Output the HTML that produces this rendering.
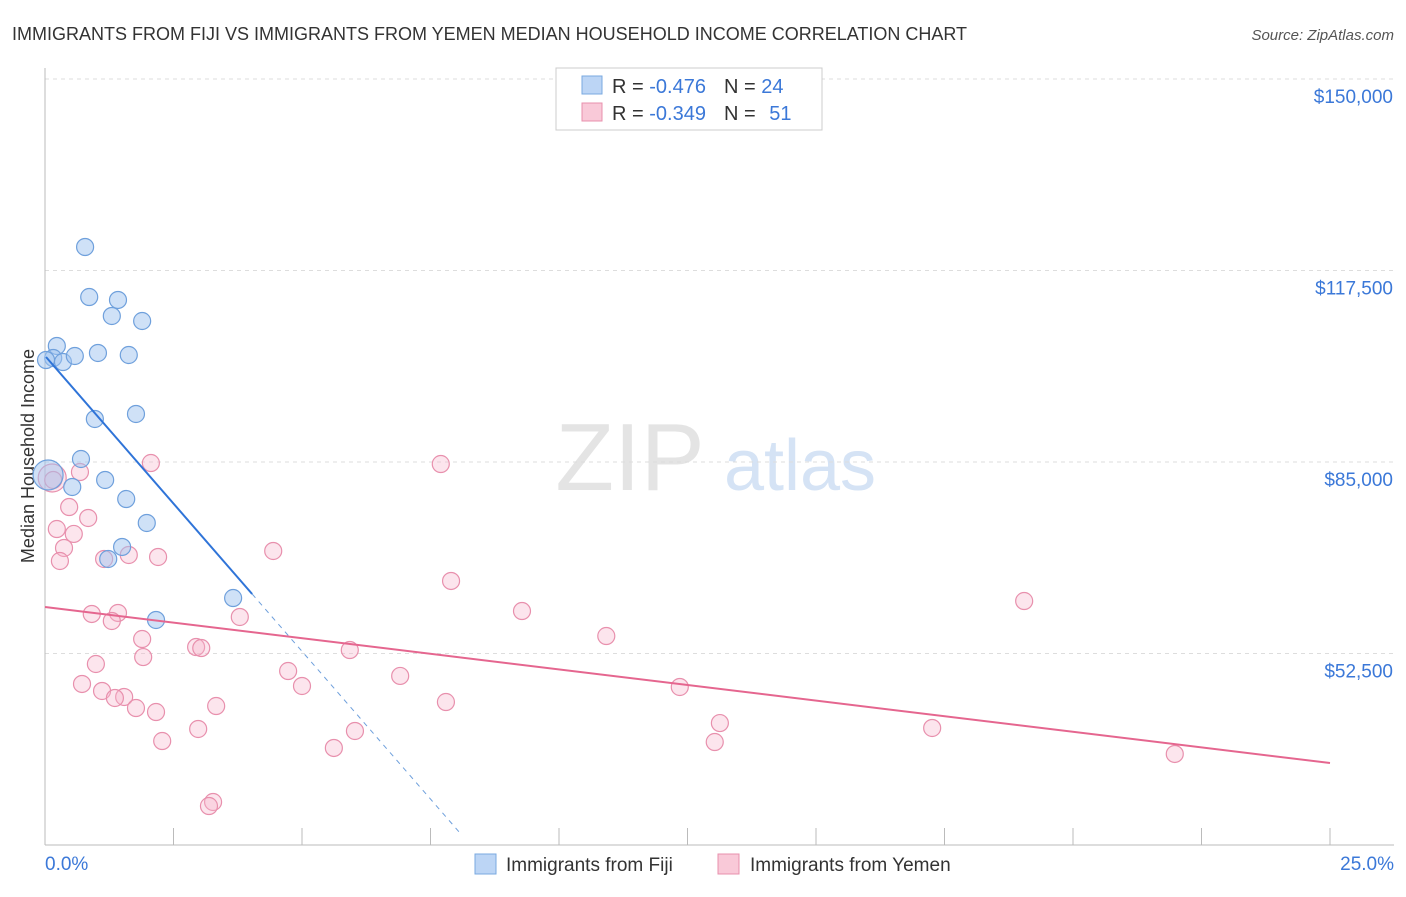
<!DOCTYPE html>
<html><head><meta charset="utf-8"><style>
body{margin:0;background:#fff;font-family:"Liberation Sans",sans-serif;}
svg text{font-family:"Liberation Sans",sans-serif;}
</style></head><body>
<svg id="chart" width="1406" height="892">
<text x="12" y="40" font-size="18" fill="#333">IMMIGRANTS FROM FIJI VS IMMIGRANTS FROM YEMEN MEDIAN HOUSEHOLD INCOME CORRELATION CHART</text>
<text x="1394" y="40" font-size="15" fill="#555" font-style="italic" text-anchor="end">Source: ZipAtlas.com</text>
<text x="630" y="490" font-size="96" fill="#e4e4e4" font-family="Liberation Serif" text-anchor="middle">ZIP</text>
<text x="800" y="490" font-size="72" fill="#d5e3f5" text-anchor="middle">atlas</text>
<text transform="translate(34,456) rotate(-90)" font-size="18" fill="#333" text-anchor="middle">Median Household Income</text>
<g id="grid"></g><g id="axes"></g><g id="marks"></g>
<g>
<rect x="556" y="68" width="266" height="62" fill="#fff" stroke="#ccc"/>
<rect x="582" y="76" width="20" height="18" fill="#bcd5f5" stroke="#7aa9e0"/>
<rect x="582" y="103" width="20" height="18" fill="#f9c9d8" stroke="#e890ad"/>
<text x="612" y="93" font-size="20" fill="#333">R = <tspan fill="#3b78d8">-0.476</tspan><tspan dx="18">N = </tspan><tspan fill="#3b78d8">24</tspan></text>
<text x="612" y="120" font-size="20" fill="#333">R = <tspan fill="#3b78d8">-0.349</tspan><tspan dx="18">N = </tspan><tspan dx="8" fill="#3b78d8">51</tspan></text>
</g>
<g>
<rect x="475" y="854" width="21" height="20" fill="#bcd5f5" stroke="#7aa9e0"/>
<text x="506" y="871" font-size="19" fill="#333">Immigrants from Fiji</text>
<rect x="718" y="854" width="21" height="20" fill="#f9c9d8" stroke="#e890ad"/>
<text x="750" y="871" font-size="19" fill="#333">Immigrants from Yemen</text>
</g>
</svg>
<script>
const yTicks=[52500,85000,117500,150000];
const yTickLabels=["$52,500","$85,000","$117,500","$150,000"];
const xTickLabels=["0.0%","25.0%"];
const fijiX=[0.78,0.86,1.42,1.30,1.89,0.23,0.16,0.35,0.58,1.03,1.63,0.97,1.77,0.70,0.53,1.17,1.58,1.98,1.50,1.23,3.66,2.16,0.06,0.02];
const fijiY=[121490,113000,112500,109780,108930,104690,102650,101970,102990,103500,103160,92300,93150,85510,80760,81950,78720,74650,70580,68540,61920,58190,82800,102310];
const yemenX=[0.14,0.16,0.68,2.06,7.70,0.23,0.47,0.84,0.56,0.37,0.29,1.15,1.63,2.20,4.44,7.90,19.05,9.28,10.92,0.91,1.42,1.30,3.79,1.89,2.94,3.04,5.93,1.91,0.99,4.73,6.91,0.72,5.00,1.11,1.54,1.36,7.80,3.33,1.77,2.16,12.35,13.13,17.26,2.98,6.03,2.28,13.03,5.62,21.98,3.27,3.19];
const yemenY=[82290,81950,83300,84830,84660,73630,77360,75500,72790,70410,68200,68540,69220,68880,69900,64810,61410,59710,55470,59210,59380,58020,58700,54960,53600,53430,53090,51900,50720,49530,48690,47330,46990,46140,45120,44950,44270,43590,43250,42570,46820,40700,39860,39690,39350,37650,37480,36470,35450,27300,26620];
const fijiTrend=[[0.02,102820],[4.03,62600],[8.07,22080]];
const yemenTrend=[[0,60390],[25,33920]];
const sx=v=>45+v/25*1285;
const sy=v=>79+(150000-v)/169.71;
const NS="http://www.w3.org/2000/svg";
function mk(parent,tag,attrs){const e=document.createElementNS(NS,tag);for(const k in attrs)e.setAttribute(k,attrs[k]);document.getElementById(parent).appendChild(e);return e;}
yTicks.forEach((t,i)=>{
 const g=mk("grid","line",{x1:45,x2:1394,y1:sy(t),y2:sy(t),stroke:"#ddd","stroke-dasharray":"4,4"});
 
 
 const l=mk("axes","text",{x:1393,y:sy(t)+24,"font-size":19,fill:"#3b78d8","text-anchor":"end"});
 l.textContent=yTickLabels[i];
 
 
});
const ax=mk("axes","line",{x1:45,x2:1394,y1:845,y2:845,stroke:"#bbb"});


const ay=mk("axes","line",{x1:45,x2:45,y1:68,y2:845,stroke:"#bbb"});


for(let i=0;i<=10;i++){
 const t=mk("axes","line",{x1:sx(i*2.5),x2:sx(i*2.5),y1:828,y2:845,stroke:"#bbb"});
 
 
}
[[0,"start",45],[25,"end",1394]].forEach((d,i)=>{
 const l=mk("axes","text",{x:d[2],y:870,"font-size":19,fill:"#3b78d8","text-anchor":d[1]});
 l.textContent=xTickLabels[i];
 
 
});
yemenX.forEach((x,i)=>{
 const c=mk("marks","circle",{cx:sx(x),cy:sy(yemenY[i]),r:i<1?14:8.5,fill:"rgba(246,180,202,0.35)",stroke:"#e890ad","stroke-width":1.2});
 
 
});
fijiX.forEach((x,i)=>{
 const c=mk("marks","circle",{cx:sx(x),cy:sy(fijiY[i]),r:i==22?15:8.5,fill:"rgba(160,196,240,0.5)",stroke:"#6fa0dc","stroke-width":1.2});
 
 
});
const f1=mk("marks","line",{x1:sx(fijiTrend[0][0]),y1:sy(fijiTrend[0][1]),x2:sx(fijiTrend[1][0]),y2:sy(fijiTrend[1][1]),stroke:"#2f74d8","stroke-width":2});


const f2=mk("marks","line",{x1:sx(fijiTrend[1][0]),y1:sy(fijiTrend[1][1]),x2:sx(fijiTrend[2][0]),y2:sy(fijiTrend[2][1]),stroke:"#6fa0dc","stroke-width":1,"stroke-dasharray":"5,5"});


const y1=mk("marks","line",{x1:sx(yemenTrend[0][0]),y1:sy(yemenTrend[0][1]),x2:sx(yemenTrend[1][0]),y2:sy(yemenTrend[1][1]),stroke:"#e5668f","stroke-width":2});


</script>
</body></html>
